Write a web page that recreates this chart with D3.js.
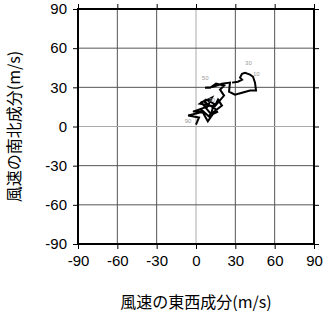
<!DOCTYPE html>
<html>
<head>
<meta charset="utf-8">
<script src="https://cdn.jsdelivr.net/npm/d3@7"></script>
<style>
  body { margin: 0; background: #fff; }
  text { font-family: "Liberation Sans", Arial, sans-serif; }
  .jp { font-family: "Noto Sans CJK JP", sans-serif; }
</style>
</head>
<body>
<svg width="323" height="313"></svg>
<script>
// hodograph: wind u (east-west) and v (north-south) components, m/s
var uWind = [0, 2.3, -6, 6, -2.3, 10.7, 3, 7.6, 13.7, 10.7, 4, 9, 15.3, 6.1, 12.2, 8, 3.5, 11, 16.8, 9.5, 19.8, 16.8, 14, 21.4, 18.3, 21.4, 15.3, 10.7, 6.9, 13, 19.8,
             25.9, 25.2, 29.7, 35.1, 41.2, 45.8, 45, 43.5, 41.2, 37.4, 35.1, 33.6, 35.1, 32, 27.5];
var vWind = [1.5, 6.9, 8.4, 11.4, 11.4, 16, 17.5, 20.6, 17.5, 6.9, 13, 4, 13, 19, 22.1, 14, 19, 10, 11.4, 8, 16, 20.6, 15, 23.7, 28.2, 31.3, 32.8, 29.7, 29.7, 30.5, 32.8,
             33.6, 26.7, 24.4, 25.9, 27.5, 27.5, 33.6, 38.1, 39.7, 41.2, 40.4, 37.4, 35.9, 34.3, 33.6];

// small level labels along the curve
var levelText = ["90", "70", "50", "30", "10"];
var levelU = [-6, 12, 7, 40, 46];
var levelV = [3, 19, 36, 47, 39];

var ticks = [-90, -60, -30, 0, 30, 60, 90];

var svg = d3.select("svg"),
    margin = {top: 9, right: 9, bottom: 69, left: 78},
    width = svg.attr("width") - margin.left - margin.right,
    height = svg.attr("height") - margin.top - margin.bottom;

var x = d3.scaleLinear().domain([-90, 90]).range([0, width]),
    y = d3.scaleLinear().domain([-90, 90]).range([height, 0]);

var g = svg.append("g")
    .attr("transform", "translate(" + margin.left + "," + margin.top + ")");

// grid
g.selectAll(".gx")
    .data(ticks)
  .enter().append("line")
    .attr("x1", function(d) { return x(d); })
    .attr("x2", function(d) { return x(d); })
    .attr("y1", 0)
    .attr("y2", height)
    .attr("stroke", function(d) { return d === 0 ? "#aaa" : "#555"; })
    .attr("stroke-width", 1);

g.selectAll(".gy")
    .data(ticks)
  .enter().append("line")
    .attr("y1", function(d) { return y(d); })
    .attr("y2", function(d) { return y(d); })
    .attr("x1", 0)
    .attr("x2", width)
    .attr("stroke", function(d) { return d === 0 ? "#aaa" : "#555"; })
    .attr("stroke-width", 1);

// axes, ticks outside on all four sides
var fmt = function(d) { return String(d); };
var xBottom = g.append("g")
    .attr("transform", "translate(0," + height + ")")
    .call(d3.axisBottom(x).tickValues(ticks).tickSize(5).tickPadding(6).tickFormat(fmt));
var yLeft = g.append("g")
    .call(d3.axisLeft(y).tickValues(ticks).tickSize(5).tickPadding(6).tickFormat(fmt));
var xTop = g.append("g")
    .call(d3.axisTop(x).tickValues(ticks).tickSize(5).tickFormat(""));
var yRight = g.append("g")
    .attr("transform", "translate(" + width + ",0)")
    .call(d3.axisRight(y).tickValues(ticks).tickSize(5).tickFormat(""));

[xBottom, yLeft, xTop, yRight].forEach(function(a) {
  a.select(".domain").remove();
  a.selectAll("line").attr("stroke", "#000");
  a.selectAll("text")
    .attr("font-size", 15)
    .attr("fill", "#000")
    .style("font-family", "'Liberation Sans', Arial, sans-serif");
});

// frame
g.append("rect")
    .attr("width", width)
    .attr("height", height)
    .attr("fill", "none")
    .attr("stroke", "#000")
    .attr("stroke-width", 2);

// hodograph line
var pts = uWind.map(function(u, i) { return [u, vWind[i]]; });
g.append("path")
    .datum(pts)
    .attr("fill", "none")
    .attr("stroke", "#000")
    .attr("stroke-width", 2)
    .attr("stroke-linejoin", "miter")
    .attr("d", d3.line()
      .x(function(d) { return x(d[0]); })
      .y(function(d) { return y(d[1]); }));

g.selectAll(".lvl")
    .data(levelText)
  .enter().append("text")
    .attr("x", function(d, i) { return x(levelU[i]); })
    .attr("y", function(d, i) { return y(levelV[i]); })
    .attr("text-anchor", "middle")
    .attr("font-size", 6)
    .attr("fill", "#999")
    .text(function(d) { return d; });

// axis titles
svg.append("text")
    .attr("class", "jp")
    .attr("x", margin.left + width / 2)
    .attr("y", 308)
    .attr("text-anchor", "middle")
    .attr("font-size", 16)
    .text("風速の東西成分(m/s)");

svg.append("text")
    .attr("class", "jp")
    .attr("text-anchor", "middle")
    .attr("transform", "translate(20," + (margin.top + height / 2) + ")rotate(-90)")
    .attr("font-size", 16)
    .text("風速の南北成分(m/s)");
</script>
</body>
</html>
